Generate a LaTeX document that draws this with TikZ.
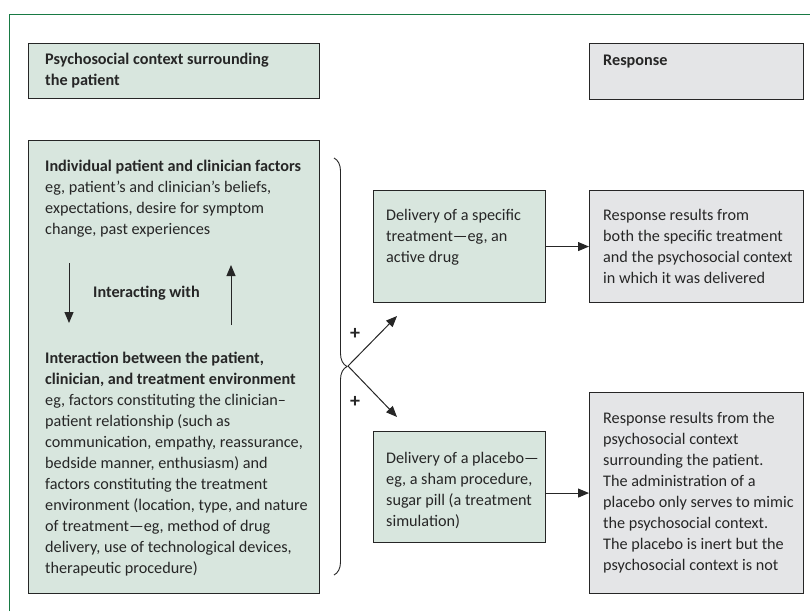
\documentclass[tikz,border=0pt]{standalone}
\usepackage{fontspec}
\setmainfont{Carlito}
\usetikzlibrary{arrows.meta,decorations.pathreplacing}
\definecolor{boxgreen}{RGB}{216,230,222}
\definecolor{boxgray}{RGB}{228,229,231}
\definecolor{framegreen}{RGB}{24,122,68}
\definecolor{inkgray}{RGB}{38,38,38}
\tikzset{
  box/.style={draw=inkgray, line width=1.1pt, anchor=north west, inner sep=0pt},
  greenbox/.style={box, fill=boxgreen},
  graybox/.style={box, fill=boxgray},
  txt/.style={anchor=base west, inner sep=0pt, align=left, text=inkgray, font=\fontsize{16.2}{21}\selectfont},
  head/.style={txt, font=\fontsize{16.2}{21}\selectfont\bfseries},
  plus/.style={inner sep=0pt, text=inkgray, font=\fontsize{20}{21}\selectfont\bfseries},
  arr/.style={line width=1pt, draw=inkgray, -{Triangle[length=11pt,width=9pt]}},
}
\begin{document}
\begin{tikzpicture}[x=1pt, y=-1pt]
  \useasboundingbox (0,0) rectangle (810,611);
  \draw[framegreen, line width=0.9pt] (9,611) -- (9,14) -- (810,14);

  \node[greenbox, minimum width=291pt, minimum height=55pt] (ctx) at (28,43) {};
  \node[graybox, minimum width=214pt, minimum height=56pt] (resp) at (589,43) {};
  \node[greenbox, minimum width=291pt, minimum height=453pt] (factors) at (28,140) {};
  \node[greenbox, minimum width=172pt, minimum height=112pt] (treat) at (373,190) {};
  \node[graybox, minimum width=214pt, minimum height=112pt] (resptreat) at (589,190) {};
  \node[greenbox, minimum width=172pt, minimum height=111pt] (placebo) at (373,431) {};
  \node[graybox, minimum width=214pt, minimum height=201pt] (respplacebo) at (589,392) {};

  \node[head] (ctxtxt) at (45,85) {Psychosocial context surrounding\\the patient};
  \node[head] (resptxt) at (603,65) {Response};
  \node[txt] (indiv) at (45,234) {\textbf{Individual patient and clinician factors}\\
    eg, patient’s and clinician’s beliefs,\\
    expectations, desire for symptom\\
    change, past experiences};
  \node[head] (inter) at (93,297) {Interacting with};
  \node[txt] (envir) at (45,573) {\textbf{Interaction between the patient,}\\
    \textbf{clinician, and treatment environment}\\
    eg, factors constituting the clinician--\\
    patient relationship (such as\\
    communication, empathy, reassurance,\\
    bedside manner, enthusiasm) and\\
    factors constituting the treatment\\
    environment (location, type, and nature\\
    of treatment—eg, method of drug\\
    delivery, use of technological devices,\\
    therapeutic procedure)};
  \node[txt] (treattxt) at (386,262) {Delivery of a specific\\treatment—eg, an\\active drug};
  \node[txt] (resptreattxt) at (603,283) {Response results from\\both the specific treatment\\and the psychosocial context\\in which it was delivered};
  \node[txt] (placebotxt) at (386,526) {Delivery of a placebo—\\eg, a sham procedure,\\sugar pill (a treatment\\simulation)};
  \node[txt] (respplacebotxt) at (603,570) {Response results from the\\psychosocial context\\surrounding the patient.\\The administration of a\\placebo only serves to mimic\\the psychosocial context.\\The placebo is inert but the\\psychosocial context is not};

  \coordinate (dntop) at (69,263);
  \coordinate (dnbot) at (69,323);
  \coordinate (uptop) at (231,265);
  \coordinate (upbot) at (231,325);
  \draw[arr] (dntop) -- (dnbot);
  \draw[arr] (upbot) -- (uptop);

  \coordinate (bracetop) at (334,158);
  \coordinate (bracebot) at (334,575);
  \draw[inkgray, line width=0.9pt, decorate, decoration={brace, amplitude=13pt}] (bracetop) -- (bracebot);
  \coordinate (bracetip) at (348,366);
  \coordinate (upend) at (397,316);
  \coordinate (downend) at (397,417);
  \draw[arr] (bracetip) -- (upend);
  \draw[arr] (bracetip) -- (downend);
  \node[plus] (plusup) at (355,334) {+};
  \node[plus] (plusdown) at (355,402) {+};

  \draw[arr] (treat) -- (resptreat);
  \draw[arr] (respplacebo.west -| placebo.east) -- (respplacebo.west);
\end{tikzpicture}
\end{document}
